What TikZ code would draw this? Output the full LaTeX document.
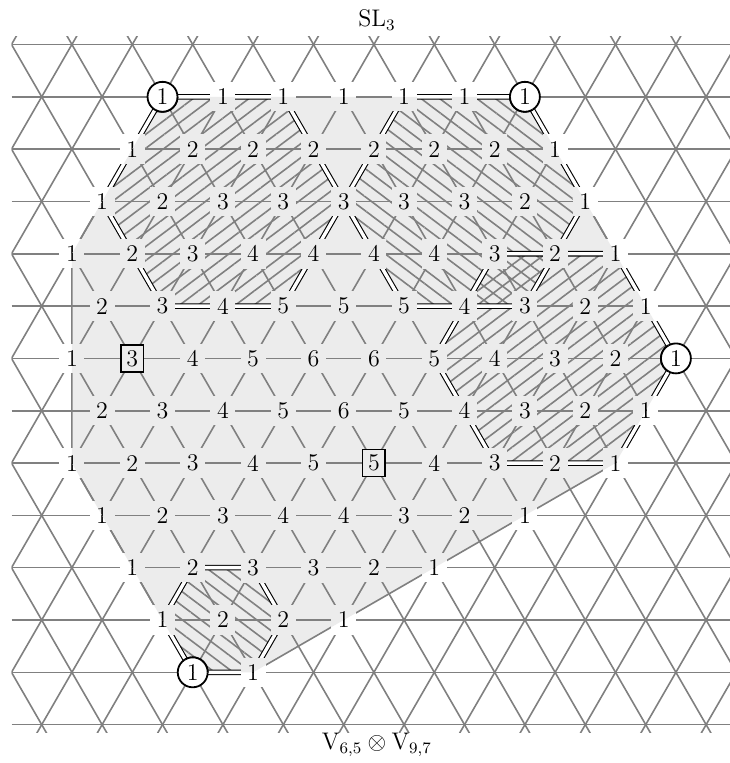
\documentclass[tikz,border=0pt]{standalone}
\usetikzlibrary{patterns.meta}
\newcommand\putlabels{%
\foreach \s/\v [count=\i from 0] in {circ/1,lab/1,lab/1,lab/1,lab/1,lab/1,circ/1}
  \node[\s] (a0-\i) at ({0+2*\i},0) {\v};
\foreach \s/\v [count=\i from 0] in {lab/1,lab/2,lab/2,lab/2,lab/2,lab/2,lab/2,lab/1}
  \node[\s] (a1-\i) at ({-1+2*\i},1) {\v};
\foreach \s/\v [count=\i from 0] in {lab/1,lab/2,lab/3,lab/3,lab/3,lab/3,lab/3,lab/2,lab/1}
  \node[\s] (a2-\i) at ({-2+2*\i},2) {\v};
\foreach \s/\v [count=\i from 0] in {lab/1,lab/2,lab/3,lab/4,lab/4,lab/4,lab/4,lab/3,lab/2,lab/1}
  \node[\s] (a3-\i) at ({-3+2*\i},3) {\v};
\foreach \s/\v [count=\i from 0] in {lab/2,lab/3,lab/4,lab/5,lab/5,lab/5,lab/4,lab/3,lab/2,lab/1}
  \node[\s] (a4-\i) at ({-2+2*\i},4) {\v};
\foreach \s/\v [count=\i from 0] in {lab/1,sq/3,lab/4,lab/5,lab/6,lab/6,lab/5,lab/4,lab/3,lab/2,circ/1}
  \node[\s] (a5-\i) at ({-3+2*\i},5) {\v};
\foreach \s/\v [count=\i from 0] in {lab/2,lab/3,lab/4,lab/5,lab/6,lab/5,lab/4,lab/3,lab/2,lab/1}
  \node[\s] (a6-\i) at ({-2+2*\i},6) {\v};
\foreach \s/\v [count=\i from 0] in {lab/1,lab/2,lab/3,lab/4,lab/5,sq/5,lab/4,lab/3,lab/2,lab/1}
  \node[\s] (a7-\i) at ({-3+2*\i},7) {\v};
\foreach \s/\v [count=\i from 0] in {lab/1,lab/2,lab/3,lab/4,lab/4,lab/3,lab/2,lab/1}
  \node[\s] (a8-\i) at ({-2+2*\i},8) {\v};
\foreach \s/\v [count=\i from 0] in {lab/1,lab/2,lab/3,lab/3,lab/2,lab/1}
  \node[\s] (a9-\i) at ({-1+2*\i},9) {\v};
\foreach \s/\v [count=\i from 0] in {lab/1,lab/2,lab/2,lab/1}
  \node[\s] (a10-\i) at ({0+2*\i},10) {\v};
\foreach \s/\v [count=\i from 0] in {circ/1,lab/1}
  \node[\s] (a11-\i) at ({1+2*\i},11) {\v};
}
\newcommand\hullpath{(0,0) -- (12,0) -- (17,5) -- (15,7) -- (3,11) -- (1,11) -- (-3,7) -- (-3,3) -- cycle}
\begin{document}
\begin{tikzpicture}[x=15.1pt, y=-26.16pt, font=\fontsize{12}{14}\selectfont,
  grid/.style={draw=gray, line width=0.8pt},
  hull/.style={fill=gray!15, draw=gray, line width=0.8pt},
  hatchne/.style={pattern={Lines[angle=37,distance=5.6pt,line width=0.8pt]}, pattern color=gray},
  hatchnw/.style={pattern={Lines[angle=-37,distance=5.6pt,line width=0.8pt]}, pattern color=gray},
  border/.style={draw=black, line width=0.55pt, double=white, double distance=1.7pt},
  labfill/.style={fill=white},
  lab/.style={labfill, inner sep=0.3333em},
  circ/.style={circle, draw=black, line width=0.9pt, fill=white, inner sep=1.8pt},
  sq/.style={rectangle, draw=black, line width=0.8pt, labfill, inner sep=2.7pt}]
\useasboundingbox (-5.381,-1.850) rectangle (18.791,12.733);
% convex hull
\path[hull] (0,0) -- (12,0) -- (17,5) -- (15,7) -- (3,11) -- (1,11) -- (-3,7) -- (-3,3) -- cycle;
% hatched hexagons
\path[hatchne] (0,0) -- (4,0) -- (6,2) -- (4,4) -- (0,4) -- (-2,2) -- cycle;
\path[hatchnw] (8,0) -- (12,0) -- (14,2) -- (12,4) -- (8,4) -- (6,2) -- cycle;
\path[hatchne] (11,3) -- (15,3) -- (17,5) -- (15,7) -- (11,7) -- (9,5) -- cycle;
\path[hatchnw] (1,9) -- (3,9) -- (4,10) -- (3,11) -- (1,11) -- (0,10) -- cycle;
% lattice
\begin{scope}
\clip (-5,-1.162) rectangle (18.8,12.141);
\foreach \r in {-1,...,12} \draw[grid] (-5,\r) -- (19,\r);
\foreach \c in {-18,-16,...,20} \draw[grid] (\c-2,-2) -- (\c+13,13);
\foreach \c in {-6,-4,...,32} \draw[grid] (\c+2,-2) -- (\c-13,13);
\end{scope}
% double borders
\draw[border] (0,0) -- (4,0) -- (6,2) -- (4,4) -- (0,4) -- (-2,2) -- cycle;
\draw[border] (8,0) -- (12,0) -- (14,2) -- (12,4) -- (8,4) -- (6,2) -- cycle;
\draw[border] (11,3) -- (15,3) -- (17,5) -- (15,7) -- (11,7) -- (9,5) -- cycle;
\draw[border] (1,9) -- (3,9) -- (4,10) -- (3,11) -- (1,11) -- (0,10) -- cycle;
% labels: white backgrounds everywhere, grey inside the hull
\putlabels
\begin{scope}
\clip (0,0) -- (12,0) -- (17,5) -- (15,7) -- (3,11) -- (1,11) -- (-3,7) -- (-3,3) -- cycle;
\tikzset{labfill/.style={fill=gray!15}}
\putlabels
\end{scope}
% titles
\node (title) at (7.1,-1.468) {SL$_3$};
\node (prod) at (7.1,12.389) {$\mathrm{V}_{6,5}\otimes\mathrm{V}_{9,7}$};
\end{tikzpicture}
\end{document}
